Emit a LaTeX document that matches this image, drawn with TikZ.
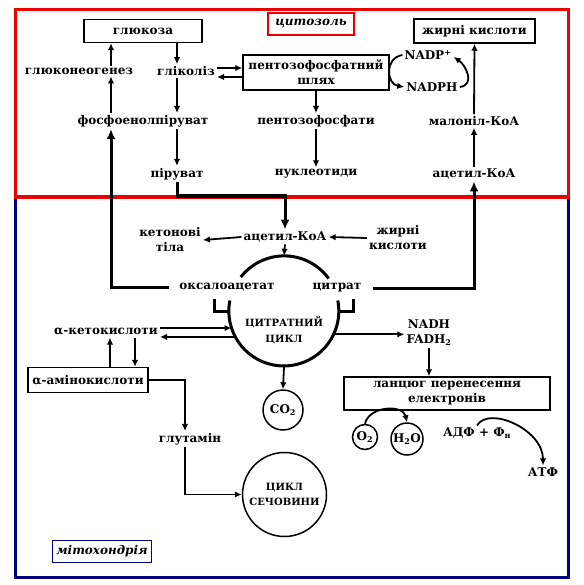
\documentclass[tikz,border=0pt]{standalone}
\usepackage{fontspec}
\setmainfont{DejaVu Serif}
\usetikzlibrary{arrows.meta}
\definecolor{navy}{RGB}{0,0,128}
\definecolor{cytred}{RGB}{235,0,0}

\begin{document}
\begin{tikzpicture}[x=1pt, y=-1pt,
    every node/.style={font=\bfseries\fontsize{12}{15}\selectfont, align=center, inner sep=2pt},
    box/.style={draw, line width=1.5pt, inner sep=0pt},
    arr/.style={line width=1.8pt, -{Latex[length=7pt,width=6.5pt]}},
    fatarr/.style={line width=3pt, -{Latex[length=10pt,width=9pt]}},
    cyc/.style={line width=3pt},
    ring/.style={draw, circle, line width=1.5pt, inner sep=0pt},
    tag/.style={draw, line width=1.2pt, minimum height=22, inner sep=3pt,
        font=\bfseries\itshape\fontsize{12}{14}\selectfont}]

    \useasboundingbox (0,0) rectangle (583,585);

    % Compartments
    \draw[navy, line width=3pt] (15,197) rectangle (568,577);
    \draw[cytred, line width=3pt] (15,10) rectangle (568,197);
    \node[tag, draw=cytred, minimum width=86] (cytlbl) at (311,24) {цитозоль};
    \node[tag, draw=navy, minimum width=99] (mitlbl) at (102,551.5) {мітохондрія};

    % Guide columns
    \coordinate (xl) at (111,0);
    \coordinate (xg) at (177,0);
    \coordinate (xa) at (110,0);
    \coordinate (xb) at (135,0);
    \coordinate (xc) at (185,0);
    \coordinate (yb) at (0,196);

    % Cytosol
    \node[box, minimum width=118, minimum height=23] (glc) at (143,31) {глюкоза};
    \node (gng) at (79,71) {глюконеогенез};
    \node (gly) at (186,71) {гліколіз};
    \node (pep) at (143,121) {фосфоенолпіруват};
    \node (pyr) at (177,174) {піруват};
    \node[box, minimum width=146, minimum height=35] (ppp) at (316,72.5) {пентозофосфатний\\шлях};
    \node (pp) at (316,121) {пентозофосфати};
    \node (nuc) at (316,174) {нуклеотиди};
    \node[box, minimum width=121, minimum height=24] (fa) at (474.5,31) {жирні кислоти};
    \node (nadp) at (428,55) {NADP\textsuperscript{+}};
    \node (nadph) at (432,87) {NADPH};
    \node (mal) at (474,121) {малоніл-КоА};
    \node (acc) at (474,174) {ацетил-КоА};

    \draw[arr] (gng.north -| xl) -- (glc.south -| xl);
    \draw[arr] (pep.north -| xl) -- (gng.south -| xl);
    \draw[arr] (glc.south -| xg) -- (gly.north -| xg);
    \draw[arr] (gly.south -| xg) -- (pep.north -| xg);
    \draw[arr] (pep.south -| xg) -- (pyr.north -| xg);
    \draw[arr] ([yshift=3pt]gly.east) -- ([yshift=3pt]gly.east -| ppp.west);
    \draw[arr] ([yshift=-6pt]gly.east -| ppp.west) -- ([yshift=-6pt]gly.east);
    \draw[arr] (ppp.south) -- (pp.north);
    \draw[arr] (pp.south) -- (nuc.north);
    \draw[arr] (acc.north) -- (mal.south);
    \draw[arr] (mal.north) -- (fa.south);
    \draw[arr] (nadp.west) .. controls +(-18,3) and +(-18,-3) .. (nadph.west);
    \draw[arr] (nadph.east) .. controls +(16,-2) and +(12,8) .. ([yshift=-2pt]nadp.east);

    % Mitochondrion
    \node (acm) at (285,237) {ацетил-КоА};
    \node (ket) at (170,240) {кетонові\\тіла};
    \node (fam) at (398,238) {жирні\\кислоти};
    \node (oaa) at (227,287) {оксалоацетат};
    \node (cit) at (337,288) {цитрат};
    \node[circle, minimum size=110, inner sep=0pt] (tca) at (284,311) {};
    \node[font=\bfseries\fontsize{10}{16}\selectfont] (tcatxt) at (284,330) {ЦИТРАТНИЙ\\ЦИКЛ};
    \node (keto) at (106,332) {α-кетокислоти};
    \node[box, minimum width=120, minimum height=25] (amino) at (88,380) {α-амінокислоти};
    \node (gln) at (190,439) {глутамін};
    \node[ring, minimum size=84, font=\bfseries\fontsize{10}{15}\selectfont] (urea) at (284.5,494.5) {ЦИКЛ\\СЕЧОВИНИ};
    \node[ring, minimum size=40] (co2) at (283,410) {CO\textsubscript{2}};
    \node (nadh) at (429,333) {NADH\\FADH\textsubscript{2}};
    \node[box, minimum width=206, minimum height=33] (etc) at (447,393.5) {ланцюг перенесення\\електронів};
    \node[ring, minimum size=25] (o2) at (365,437) {O\textsubscript{2}};
    \node[ring, minimum size=32] (h2o) at (407,439) {H\textsubscript{2}O};
    \node (adp) at (477,433) {АДФ + Ф\textsubscript{н}};
    \node (atp) at (543,472) {АТФ};

    % Cycle
    \draw[cyc] (tca.36) arc[start angle=-36, end angle=-142, radius=55];
    \draw[cyc] (tca.169) arc[start angle=-169, end angle=-371, radius=55];
    \draw[cyc] (tca.west) -- ++(-14,0) -- ++(0,-12);
    \draw[cyc] (tca.east) -- ++(14,0) -- ++(0,-12);

    \draw[fatarr] ([xshift=-8pt]oaa.west) -- (oaa.west -| xl) -- (pep.south -| xl);
    \draw[fatarr] (pyr.south) -- (pyr.south |- yb) -- (acm.north |- yb) -- (acm.north);
    \draw[fatarr] ([xshift=9pt]cit.east) -- (cit.east -| acc) -- (acc.south);
    \draw[arr] (acm.west) -- (ket.east);
    \draw[arr] (fam.west) -- (acm.east);
    \draw[arr] (acm.south) -- (tca.north);
    \draw[arr] (keto.east |- tca.198) -- (tca.198);
    \draw[arr] (tca.208) -- (keto.east |- tca.208);
    \draw[arr] (tca.-25) -- (nadh.west |- tca.-25);
    \draw[arr] (tca.south) -- (co2.north);
    \draw[arr] (nadh.south) -- (nadh.south |- etc.north);
    \draw[arr] (amino.north -| xa) -- (keto.south -| xa);
    \draw[arr] (keto.south -| xb) -- (amino.north -| xb);
    \draw[arr] (amino.east) -- (amino.east -| xc) -- (gln.north -| xc);
    \draw[arr] (gln.south -| xc) |- (urea.west);
    \draw[arr] (o2.north) .. controls +(4,-18) and +(-4,-18) .. (h2o.north);
    \draw[arr] (adp.north) .. controls +(12,-20) and +(0,-36) .. (atp.north);
\end{tikzpicture}
\end{document}
